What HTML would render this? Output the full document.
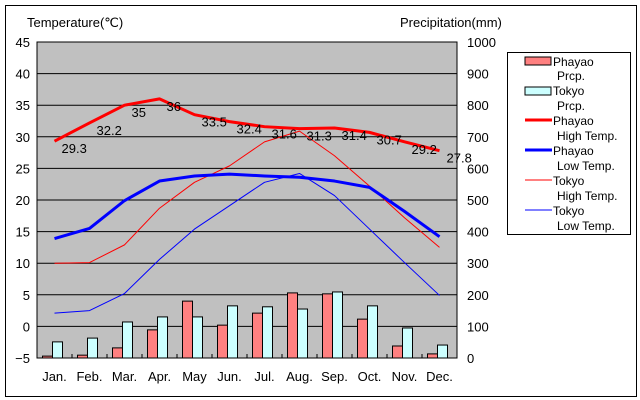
<!DOCTYPE html>
<html><head><meta charset="utf-8"><style>
body{margin:0;background:#fff;}
svg{display:block;font-family:"Liberation Sans",sans-serif;}
</style></head><body>
<svg id="c" width="640" height="400">
<rect x="5.5" y="5.5" width="631" height="391" fill="#fff" stroke="#000"/>
<text x="27" y="27" font-size="13">Temperature(℃)</text>
<text x="400" y="27" font-size="13">Precipitation(mm)</text>
<g id="plot"></g>
<g>
<rect x="507.5" y="52.5" width="123" height="182" fill="#fff" stroke="#000"/>
<rect x="525" y="57" width="26" height="8" fill="#ff8080" stroke="#000"/>
<text x="553" y="66" font-size="12">Phayao</text>
<text x="557" y="80" font-size="12">Prcp.</text>
<rect x="525" y="87" width="26" height="8" fill="#ccffff" stroke="#000"/>
<text x="553" y="95" font-size="12">Tokyo</text>
<text x="557" y="110" font-size="12">Prcp.</text>
<line x1="525" y1="120" x2="552" y2="120" stroke="#f00" stroke-width="3"/>
<text x="553" y="125" font-size="12">Phayao</text>
<text x="557" y="140" font-size="12">High Temp.</text>
<line x1="525" y1="150" x2="552" y2="150" stroke="#00f" stroke-width="3"/>
<text x="553" y="155" font-size="12">Phayao</text>
<text x="557" y="170" font-size="12">Low Temp.</text>
<line x1="525" y1="180" x2="552" y2="180" stroke="#f00" stroke-width="1"/>
<text x="553" y="185" font-size="12">Tokyo</text>
<text x="557" y="200" font-size="12">High Temp.</text>
<line x1="525" y1="210" x2="552" y2="210" stroke="#00f" stroke-width="1"/>
<text x="553" y="215" font-size="12">Tokyo</text>
<text x="557" y="230" font-size="12">Low Temp.</text>
</g>
</svg>
<script>
const months=["Jan.","Feb.","Mar.","Apr.","May","Jun.","Jul.","Aug.","Sep.","Oct.","Nov.","Dec."];
const tempTicks=[-5,0,5,10,15,20,25,30,35,40,45];
const precTicks=[0,100,200,300,400,500,600,700,800,900,1000];
const phayaoPrcp=[6,9,32,89,180,104,142,206,203,123,38,13];
const tokyoPrcp=[51,63,114,130,130,165,162,155,209,165,95,41];
const phayaoHigh=[29.3,32.2,35,36,33.5,32.4,31.6,31.3,31.4,30.7,29.2,27.8];
const phayaoLow=[13.9,15.5,19.9,23.0,23.8,24.1,23.8,23.6,23.0,22.0,18.2,14.2];
const tokyoHigh=[10.0,10.1,12.9,18.7,22.8,25.4,29.2,30.9,27.0,22.2,17.2,12.5];
const tokyoLow=[2.1,2.5,5.2,10.6,15.4,19.1,22.8,24.2,20.7,15.4,10.1,4.9];
const L=37,R=457,T=42,B=358,NS="http://www.w3.org/2000/svg";
const bw=(R-L)/12;
const xC=i=>L+bw*(i+0.5);
const yT=t=>B-(t+5)/50*(B-T);
const yP=p=>B-p/1000*(B-T);
const g=document.getElementById('plot');
function mk(tag,attrs,parent){const e=document.createElementNS(NS,tag);for(const k in attrs)e.setAttribute(k,attrs[k]);(parent||g).appendChild(e);return e;}
const bg=mk('rect',{x:L,y:T,width:R-L,height:B-T,fill:'#c0c0c0',stroke:'#000'});


tempTicks.forEach(t=>{
  const y=yT(t);
  if(t>-5&&t<45){const l=mk('line',{x1:L,x2:R,y1:y,y2:y,stroke:'#000'});}
  const tx=mk('text',{x:30,y:y+5,'font-size':13,'text-anchor':'end'});tx.textContent=(t<0?'−'+(-t):t);
  
  
});
precTicks.forEach(p=>{
  const tx=mk('text',{x:467,y:yP(p)+5,'font-size':13});tx.textContent=p;
  
  
});
months.forEach((m,i)=>{
  const x=L+bw*(i+1);
  if(i<11)mk('line',{x1:x,x2:x,y1:B-4,y2:B,stroke:'#000'});
  const tx=mk('text',{x:xC(i),y:B+23,'font-size':13,'text-anchor':'middle'});tx.textContent=m;
  
  
});
phayaoPrcp.forEach((p,i)=>{
  const r=mk('rect',{x:xC(i)-12,y:yP(p),width:10,height:B-yP(p),fill:'#ff8080',stroke:'#000'});
  
  
});
tokyoPrcp.forEach((p,i)=>{
  const r=mk('rect',{x:xC(i)-2,y:yP(p),width:10,height:B-yP(p),fill:'#ccffff',stroke:'#000'});
  
  
});
function line(arr,color,w,name){
  const pl=mk('polyline',{points:arr.map((v,i)=>xC(i)+','+yT(v)).join(' '),fill:'none',stroke:color,'stroke-width':w,'stroke-linejoin':'round'});
  
  
}
line(tokyoHigh,'#f00',1,'line-tokyo-high');
line(tokyoLow,'#00f',1,'line-tokyo-low');
line(phayaoLow,'#00f',3,'line-phayao-low');
line(phayaoHigh,'#f00',3,'line-phayao-high');
phayaoHigh.forEach((v,i)=>{
  const tx=mk('text',{x:xC(i)+7,y:yT(v)+12,'font-size':13});tx.textContent=v;
  
  
});
</script>
</body></html>
